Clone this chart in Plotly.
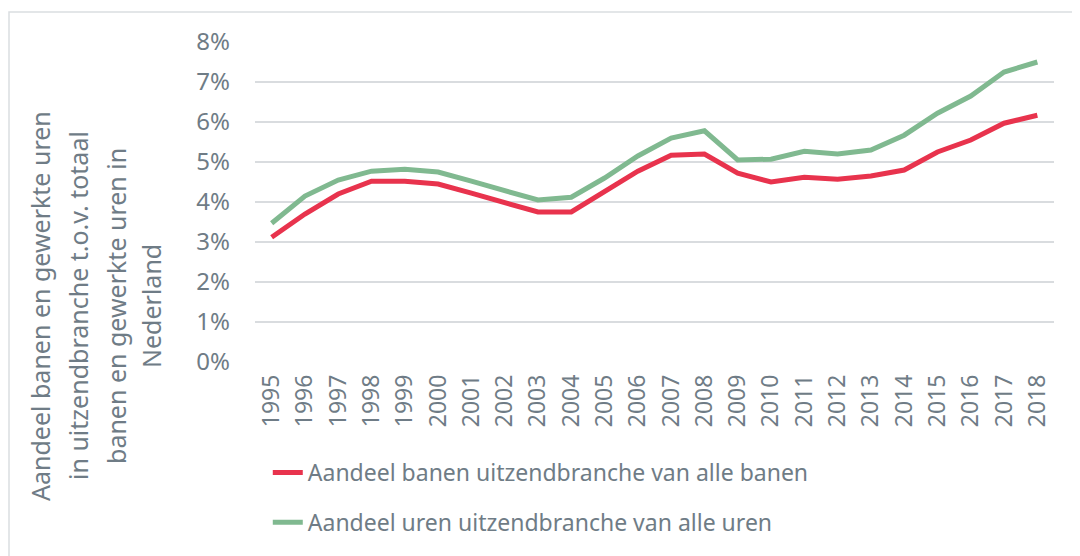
import plotly.graph_objects as go

# jaren en aandelen (in %)
jaren = [str(j) for j in range(1995, 2019)]
aandeel_banen = [3.12, 3.70, 4.20, 4.52, 4.52, 4.45, 4.22, 3.97, 3.75, 3.75,
                 4.25, 4.77, 5.17, 5.20, 4.72, 4.50, 4.62, 4.57, 4.65, 4.80,
                 5.25, 5.55, 5.97, 6.17]
aandeel_uren = [3.47, 4.15, 4.55, 4.77, 4.82, 4.75, 4.52, 4.27, 4.05, 4.12,
                4.60, 5.15, 5.60, 5.78, 5.05, 5.07, 5.27, 5.20, 5.30, 5.67,
                6.22, 6.65, 7.25, 7.50]
y_ticks = [0, 1, 2, 3, 4, 5, 6, 7, 8]
y_ticklabels = [f"{v}%" for v in y_ticks]
y_titel = ['Aandeel banen en gewerkte uren',
           'in uitzendbranche t.o.v. totaal',
           'banen en gewerkte uren in',
           'Nederland']

rood = '#E8334D'
groen = '#80B990'
tekst = '#6F7C86'
font = 'Noto Sans'

# de pagina heeft 8px body-marge, dus alles 8px naar links/boven
off = 8

fig = go.Figure()
fig.add_trace(go.Scatter(x=jaren, y=aandeel_banen, mode='lines',
                         name='Aandeel banen uitzendbranche van alle banen',
                         legendgroup='a',
                         line=dict(color=rood, width=5)))
fig.add_trace(go.Scatter(x=jaren, y=aandeel_uren, mode='lines',
                         name='Aandeel uren uitzendbranche van alle uren',
                         legendgroup='b',
                         line=dict(color=groen, width=5)))

# as-titel: vier losse regels, zodat de regelafstand klopt
titel_x = [40, 78, 116, 151]
annotaties = [dict(text=regel, textangle=-90, xref='paper', yref='paper',
                   x=(px - 255) / 799, y=(362 - 306) / 320,
                   xanchor='center', yanchor='middle', showarrow=False,
                   font=dict(size=25, color=tekst))
              for regel, px in zip(y_titel, titel_x)]

fig.update_layout(
    width=1080, height=556,
    margin=dict(l=255 - off, r=1080 - 1054 + off, t=42 - off, b=556 - 362 + off),
    paper_bgcolor='white', plot_bgcolor='white',
    font=dict(family=font, color=tekst, size=22),
    legend=dict(x=0.016, y=-0.278, xanchor='left', yanchor='top',
                orientation='v', tracegroupgap=17,
                font=dict(size=23, color=tekst)),
    shapes=[dict(type='rect', xref='paper', yref='paper',
                 x0=(9 - 255) / 799, x1=1.3, y0=-1.0, y1=1 + 30 / 320,
                 line=dict(color='#DADEE1', width=1.5), layer='below')],
    annotations=annotaties,
)

fig.update_xaxes(type='category', range=[-0.5, len(jaren) - 0.5],
                 showgrid=False, showline=False, ticks='',
                 tickangle=-90, tickfont=dict(size=23, color=tekst),
                 ticklabelstandoff=7, automargin=False)
fig.update_yaxes(range=[0, 8], tickvals=y_ticks, ticktext=y_ticklabels,
                 showgrid=True, gridcolor='#D9DCDF', gridwidth=2,
                 zeroline=False, showline=False, ticks='',
                 tickfont=dict(size=24, color=tekst), ticklabelstandoff=24,
                 automargin=False)

fig.write_html("out.html")
